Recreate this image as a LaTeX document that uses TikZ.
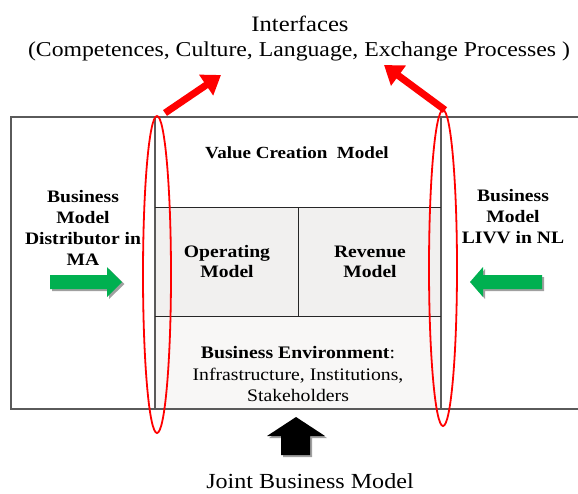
\documentclass[tikz,border=0pt]{standalone}
\usepackage{fontspec}
\setmainfont[FakeStretch=1.12]{Liberation Serif}
\usetikzlibrary{arrows.meta}
\definecolor{framegray}{HTML}{5A5A5A}
\definecolor{arrowgreen}{HTML}{00B050}
\definecolor{shadowgray}{HTML}{A0A0A0}
\definecolor{midfill}{HTML}{F1F0EF}
\definecolor{lowfill}{HTML}{F8F7F6}
\tikzset{
  frameline/.style={draw=framegray, line width=1.2pt},
  divline/.style={draw=black!85, line width=1pt},
  boldlabel/.style={font=\fontsize{17.5}{21}\selectfont\bfseries, align=center, inner sep=0pt},
  plainlabel/.style={font=\fontsize{22}{27}\selectfont, align=center, inner sep=0pt},
  redring/.style={draw=red, line width=1.8pt},
  redarrow/.style={draw=red, line width=7pt, -{Triangle[length=18pt,width=24pt]}},
}
\begin{document}
\begin{tikzpicture}[x=1pt, y=-1pt]
\useasboundingbox (0,0) rectangle (578,493);

% row fills of the central column
\fill[midfill] (155,207) rectangle (441,316);
\fill[lowfill] (155,316) rectangle (441,409);

% outer frame (right edge runs past the page)
\draw[frameline] (11,117) rectangle (590,409);
% central column
\draw[frameline] (155,117) -- (155,409);
\draw[frameline] (441,117) -- (441,409);
\draw[divline] (155,207) -- (441,207);
\draw[divline] (155,316) -- (441,316);
\draw[divline] (298,207) -- (298,316);

% texts
\node[plainlabel] (title) at (300,24) {Interfaces};
\node[plainlabel, font=\fontsize{21.2}{27}\selectfont] (topics) at (299,51) {(Competences, Culture, Language, Exchange Processes )};
\node[boldlabel, font=\fontsize{17}{21}\selectfont\bfseries] (vcm) at (297,153) {Value Creation\ \ Model};
\node[boldlabel] (opm) at (227,262) {Operating\\[-1pt]Model};
\node[boldlabel] (revm) at (370,262) {Revenue\\[-1pt]Model};
\node[boldlabel, font=\fontsize{17.6}{21.5}\selectfont] (env) at (298,374)
  {\textbf{Business Environment}:\\Infrastructure, Institutions,\\Stakeholders};
\node[boldlabel] (bmma) at (83,228) {Business\\Model\\Distributor in\\MA};
\node[boldlabel] (bmnl) at (513,217) {Business\\Model\\LIVV in NL};
\node[plainlabel, font=\fontsize{21.5}{26}\selectfont] (joint) at (310,481) {Joint Business Model};

% green arrows pointing into the central column
\fill[shadowgray] (52,277) -- (109,277) -- (109,269) -- (124.5,284) -- (109,299) -- (109,291) -- (52,291) -- cycle;
\fill[arrowgreen] (50,275) -- (107,275) -- (107,267) -- (122,282) -- (107,297) -- (107,289) -- (50,289) -- cycle;
\node[inner sep=0pt] (garrowl) at (86,282) {};
\fill[shadowgray] (544,277) -- (485,277) -- (485,269) -- (472.5,284) -- (485,299) -- (485,291) -- (544,291) -- cycle;
\fill[arrowgreen] (542,275) -- (483,275) -- (483,267) -- (470,282) -- (483,297) -- (483,289) -- (542,289) -- cycle;
\node[inner sep=0pt] (garrowr) at (506,282) {};

% black arrow from the joint model
\fill[shadowgray] (283,457) -- (283,438) -- (269,438) -- (298,419) -- (327,438) -- (312,438) -- (312,457) -- cycle;
\fill[black] (281,455) -- (281,436) -- (267,436) -- (296,417) -- (325,436) -- (310,436) -- (310,455) -- cycle;
\node[inner sep=0pt] (barrow) at (296,436) {};

% red rings around the interfaces
\draw[redring] (157,274.5) ellipse [x radius=14, y radius=158.5];
\draw[redring] (443,268) ellipse [x radius=14, y radius=158];
\coordinate (ringl) at (165,113);
\coordinate (ringr) at (445,110);
\coordinate (tipl) at (221,75);
\coordinate (tipr) at (384,65);
\draw[redarrow] (ringl) -- (tipl);
\draw[redarrow] (ringr) -- (tipr);
\end{tikzpicture}
\end{document}
